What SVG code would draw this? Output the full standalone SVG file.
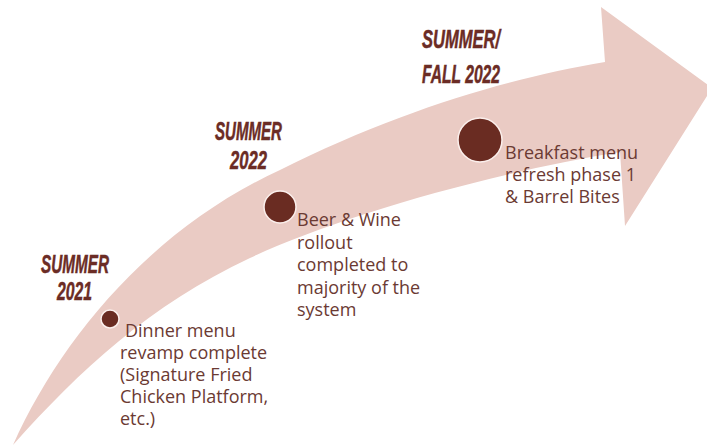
<svg xmlns="http://www.w3.org/2000/svg" width="707" height="448" viewBox="0 0 707 448">
  <style>
    .band { fill: #EACBC4; }
    .dot { fill: #6A2C22; stroke: #FBEFEC; stroke-width: 1.5; }
    .title { font-family: "Liberation Sans", Arial, sans-serif; font-weight: bold; font-style: italic; font-size: 25.5px; fill: #6B2C25; stroke: #6B2C25; stroke-width: 0.5; }
    .body { font-family: "Open Sans", "Noto Sans", "Liberation Sans", sans-serif; font-size: 18px; fill: #6B3A33; }
  </style>
  <rect width="707" height="448" fill="#FFFFFF"/>

  <!-- curved timeline arrow -->
  <g id="connectors">
    <path id="timeline-arrow" class="band"
      d="M13,445 C60,340 150,230 280,170 C400,110 510,78 605,62 L601,7 L712,88 L625,226 L620,152 C480,175 330,220 250,258 C150,305 80,370 13,445 Z"/>
  </g>

  <!-- milestone: Summer 2021 -->
  <g id="milestone-2021">
    <text class="title" x="41" y="273" textLength="68" lengthAdjust="spacingAndGlyphs">SUMMER</text>
    <text class="title" x="57" y="300" textLength="35" lengthAdjust="spacingAndGlyphs">2021</text>
    <circle class="dot" cx="110" cy="319" r="9"/>
    <text class="body">
      <tspan x="125" y="337">Dinner menu</tspan>
      <tspan x="120" y="359">revamp complete</tspan>
      <tspan x="120" y="381">(Signature Fried</tspan>
      <tspan x="120" y="403">Chicken Platform,</tspan>
      <tspan x="120" y="425">etc.)</tspan>
    </text>
  </g>

  <!-- milestone: Summer 2022 -->
  <g id="milestone-2022">
    <text class="title" x="215" y="140" textLength="67" lengthAdjust="spacingAndGlyphs">SUMMER</text>
    <text class="title" x="230" y="169" textLength="37" lengthAdjust="spacingAndGlyphs">2022</text>
    <circle class="dot" cx="280" cy="207" r="16"/>
    <text class="body">
      <tspan x="297" y="226">Beer &amp; Wine</tspan>
      <tspan x="297" y="248.5">rollout</tspan>
      <tspan x="297" y="271">completed to</tspan>
      <tspan x="297" y="293.5">majority of the</tspan>
      <tspan x="297" y="316">system</tspan>
    </text>
  </g>

  <!-- milestone: Summer/Fall 2022 -->
  <g id="milestone-fall-2022">
    <text class="title" x="422" y="48" textLength="78" lengthAdjust="spacingAndGlyphs">SUMMER/</text>
    <text class="title" x="422" y="83" textLength="78" lengthAdjust="spacingAndGlyphs">FALL 2022</text>
    <circle class="dot" cx="480" cy="140" r="22"/>
    <text class="body">
      <tspan x="505" y="159">Breakfast menu</tspan>
      <tspan x="505" y="181">refresh phase 1</tspan>
      <tspan x="505" y="203">&amp; Barrel Bites</tspan>
    </text>
  </g>
</svg>
